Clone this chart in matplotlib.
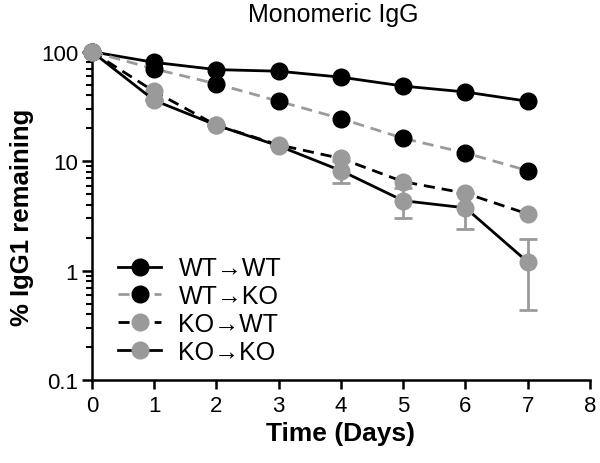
"""Monomeric IgG clearance — log-scale line plot with error bars."""

import matplotlib
matplotlib.use("Agg")

import matplotlib.pyplot as plt
from matplotlib.ticker import LogLocator, FixedLocator, NullFormatter

plt.rcParams.update({
    "font.family": ["Liberation Sans", "DejaVu Sans"],
    "font.size": 16,
})

CINZA = "#9a9a9a"
PRETO = "#000000"

# ---------------------------------------------------------------------------
# Dados
# ---------------------------------------------------------------------------
dias = [0, 1, 2, 3, 4, 5, 6, 7]
wt_wt = [100, 80, 68.7, 66.4, 58.6, 48.6, 42.9, 35.3]
wt_ko = [100, 69.7, 50.9, 35.3, 24.5, 16.2, 11.9, 8.2]
ko_wt = [100, 43.4, 21.3, 14.1, 10.6, 6.5, 5.1, 3.3]
ko_ko = [100, 36, 21.3, 13.8, 8.2, 4.36, 3.75, 1.2]
ko_ko_sd = [0, 0, 0, 0, 1.9, 1.36, 1.37, 0.76]

fig = plt.figure(figsize=(6, 4.64), dpi=100)
ax = fig.add_axes([0.1533, 0.1785, 0.83, 0.7078])

ms = 12
lw = 2.0
ax.plot(dias, wt_wt, "-o", color=PRETO, mfc=PRETO, mec=PRETO, ms=ms, lw=lw,
        clip_on=False, zorder=3, label="WT→WT")
ax.plot(dias, wt_ko, "--o", color=CINZA, mfc=PRETO, mec=PRETO, ms=ms, lw=lw,
        dashes=(4, 2.5), clip_on=False, zorder=3, label="WT→KO")
ax.plot(dias, ko_wt, "--o", color=PRETO, mfc=CINZA, mec=CINZA, ms=ms, lw=lw,
        dashes=(4, 2.5), clip_on=False, zorder=4, label="KO→WT")
ax.errorbar(dias, ko_ko, yerr=ko_ko_sd, fmt="none", ecolor=CINZA,
            elinewidth=2, capsize=6.5, capthick=2, zorder=4, clip_on=False)
ax.plot(dias, ko_ko, "-o", color=PRETO, mfc=CINZA, mec=CINZA, ms=ms, lw=lw,
        clip_on=False, zorder=5, label="KO→KO")

ax.set_yscale("log")
ax.set_ylim(0.1, 100)
ax.set_xlim(0, 8)
ax.set_xticks(range(0, 9))
ax.yaxis.set_major_locator(FixedLocator([0.1, 1, 10, 100]))
ax.set_yticklabels(["0.1", "1", "10", "100"])
ax.yaxis.set_minor_locator(LogLocator(base=10, subs=range(2, 10)))
ax.yaxis.set_minor_formatter(NullFormatter())

for lado in ("top", "right"):
    ax.spines[lado].set_visible(False)
for lado in ("left", "bottom"):
    ax.spines[lado].set_linewidth(1.8)

ax.tick_params(axis="y", which="major", length=7, width=1.8, pad=3, labelsize=16)
ax.tick_params(axis="y", which="minor", length=4, width=1.5)
ax.tick_params(axis="x", which="major", length=6.5, width=1.8, pad=4, labelsize=16)

ax.set_xlabel("Time (Days)", fontsize=19, fontweight="bold", labelpad=4)
ax.set_ylabel("% IgG1 remaining", fontsize=18.5, fontweight="bold", labelpad=5)
fig.text(333 / 600, 1 - 15 / 464, "Monomeric IgG", fontsize=18,
         ha="center", va="center")

leg = ax.legend(loc="lower left", bbox_to_anchor=(0.033, 0.02), frameon=False,
                fontsize=18, handlelength=1.7, handletextpad=0.7,
                labelspacing=0.15, borderaxespad=0)

fig.savefig("out.png", dpi=100, facecolor="white")
